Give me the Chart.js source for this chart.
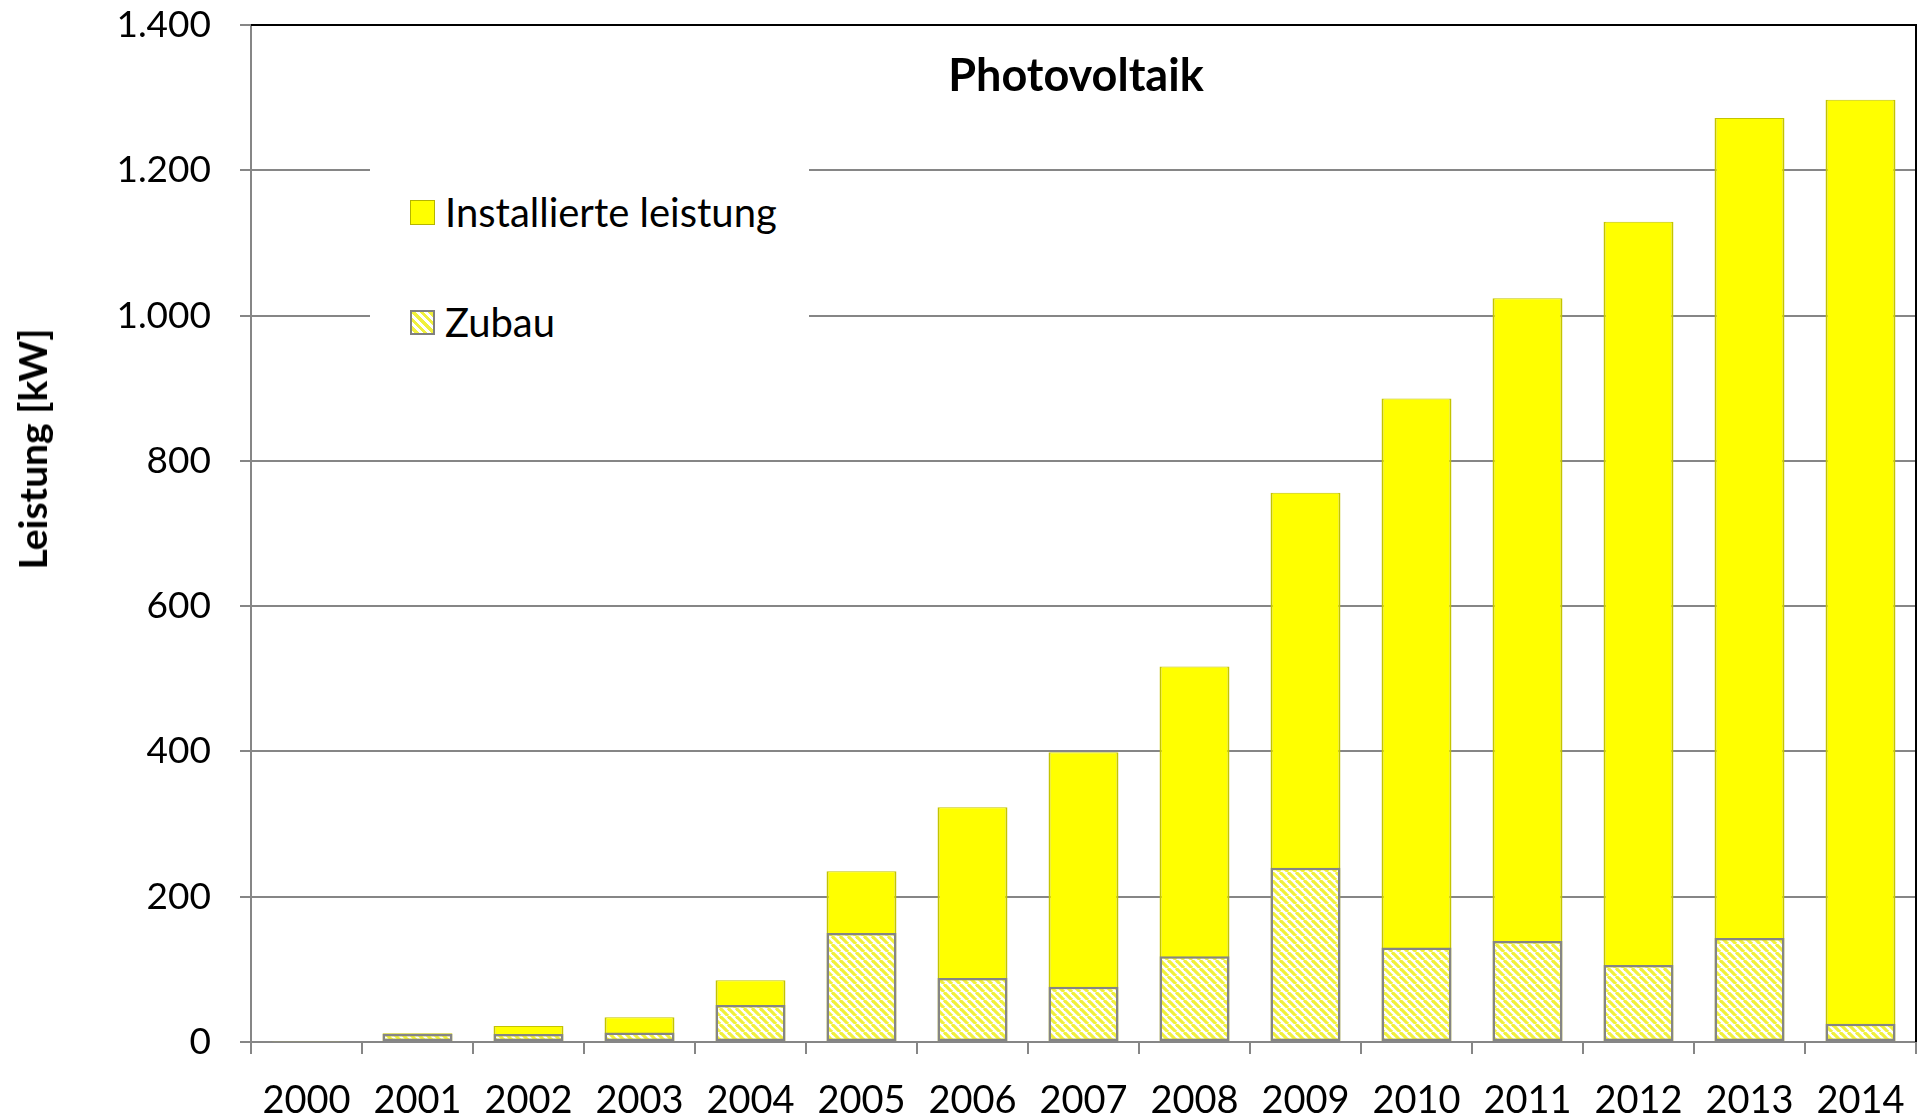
<!DOCTYPE html>
<html>
<head>
<meta charset="utf-8">
<script src="https://cdn.jsdelivr.net/npm/chart.js@4"></script>
<style>
  body { margin: 0; background: #fff; }
  #wrap { position: relative; width: 1921px; height: 1118px; }
  #titel {
    position: absolute; left: 826px; width: 500px; top: 47px;
    text-align: center; font: bold 45px Lato, sans-serif; color: #000;
  }
  #achsentitel {
    position: absolute; left: 32px; top: 449px; white-space: nowrap;
    transform: translate(-50%, -50%) rotate(-90deg);
    font: bold 39px Lato, sans-serif; color: #000;
  }
  #legende {
    position: absolute; left: 370px; top: 150px; width: 439px; height: 200px;
    background: #fff; font: 40px Lato, sans-serif; color: #000;
  }
  .eintrag { position: absolute; left: 40px; display: flex; align-items: center; }
  .eintrag span { margin-left: 10px; }
  .kasten { width: 25px; height: 25px; box-sizing: border-box; }
  .gelb { background: #ffff00; border: 1px solid #b5b500; }
  .schraffur {
    border: 2px solid #808080;
    background: repeating-linear-gradient(45deg, #fff 0 2px, #f0f03c 2px 5px, #fff 5px 6px);
  }
</style>
</head>
<body>
<div id="wrap">
  <canvas id="grafico" width="1921" height="1118"></canvas>
  <div id="titel">Photovoltaik</div>
  <div id="achsentitel">Leistung [kW]</div>
  <div id="legende">
    <div class="eintrag" style="top:38px"><div class="kasten gelb"></div><span>Installierte leistung</span></div>
    <div class="eintrag" style="top:148px"><div class="kasten schraffur"></div><span>Zubau</span></div>
  </div>
</div>
<script>
const jahre = ["2000", "2001", "2002", "2003", "2004", "2005", "2006", "2007",
  "2008", "2009", "2010", "2011", "2012", "2013", "2014"];
const installierteLeistung = [1, 12, 22, 34, 85, 235, 323, 399, 517, 756, 886, 1024, 1129, 1272, 1297];
const zubau = [1, 11, 11, 13, 51, 150, 88, 76, 118, 240, 130, 139, 106, 143, 25];

// Schraffur fuer den Zubau
function schraffur() {
  const s = 8;
  const c = document.createElement("canvas");
  c.width = s;
  c.height = s;
  const g = c.getContext("2d");
  g.fillStyle = "#ffffff";
  g.fillRect(0, 0, s, s);
  g.strokeStyle = "#f0f03c";
  g.lineWidth = 3.2;
  for (const x0 of [-s, 0, s]) {
    g.beginPath();
    g.moveTo(x0, 0);
    g.lineTo(x0 + s, s);
    g.stroke();
  }
  return g.createPattern(c, "repeat");
}

// schwarzer Rahmen oben und rechts
const rahmen = {
  id: "rahmen",
  afterDraw(chart) {
    const { ctx, chartArea: a } = chart;
    ctx.save();
    ctx.strokeStyle = "#000";
    ctx.lineWidth = 2;
    ctx.beginPath();
    ctx.moveTo(a.left, a.top);
    ctx.lineTo(a.right, a.top);
    ctx.lineTo(a.right, a.bottom);
    ctx.stroke();
    ctx.restore();
  },
};

const ctx = document.getElementById("grafico");

new Chart(ctx, {
  type: "bar",
  data: {
    labels: jahre,
    datasets: [
      {
        label: "Installierte leistung",
        data: installierteLeistung,
        backgroundColor: "#ffff00",
        borderColor: "#c4c400",
        borderWidth: { left: 2, right: 2, top: 1, bottom: 0 },
        borderSkipped: "bottom",
        grouped: false,
        order: 2,
      },
      {
        label: "Zubau",
        data: zubau,
        backgroundColor: schraffur(),
        borderColor: "#858585",
        borderWidth: 2.5,
        borderSkipped: false,
        grouped: false,
        order: 1,
      },
    ],
  },
  options: {
    responsive: false,
    animation: false,
    barPercentage: 0.63,
    categoryPercentage: 1,
    layout: { padding: { top: 0, right: 5, left: 0, bottom: 0 } },
    plugins: {
      legend: { display: false },
      tooltip: { enabled: false },
    },
    scales: {
      x: {
        afterFit: (scale) => {
          scale.height = 76;
          scale.paddingLeft = 0;
          scale.paddingRight = 0;
        },
        grid: {
          offset: true,
          drawOnChartArea: false,
          color: "#868686",
          lineWidth: 2,
          tickLength: 12,
        },
        border: { color: "#868686", width: 2 },
        ticks: {
          color: "#000",
          padding: 24,
          font: { family: "Lato", size: 38 },
        },
      },
      y: {
        min: 0,
        max: 1400,
        afterFit: (scale) => {
          scale.width = 251;
          scale.paddingTop = 25;
          scale.paddingBottom = 0;
        },
        grid: {
          color: "#868686",
          lineWidth: 2,
          tickLength: 11,
        },
        border: { color: "#868686", width: 2 },
        ticks: {
          stepSize: 200,
          color: "#000",
          padding: 29,
          font: { family: "Lato", size: 37 },
          callback: (v) => v.toLocaleString("de-DE"),
        },
      },
    },
  },
  plugins: [rahmen],
});
</script>
</body>
</html>
